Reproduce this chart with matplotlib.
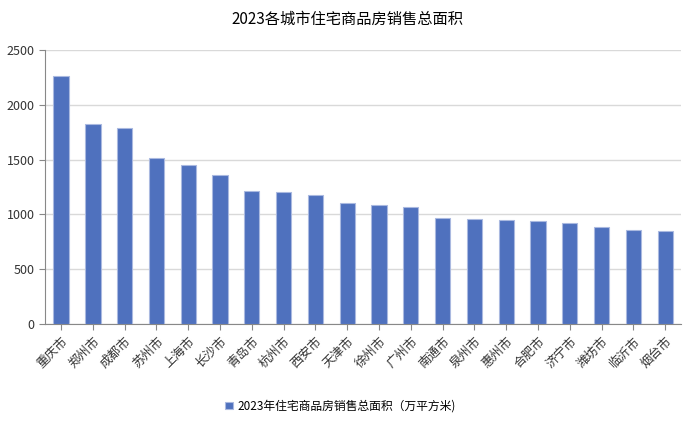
import matplotlib.pyplot as plt

plt.rcParams['font.family'] = ['Noto Sans CJK SC', 'DejaVu Sans']

# data
cities = ['重庆市', '郑州市', '成都市', '苏州市', '上海市', '长沙市', '青岛市', '杭州市',
          '西安市', '天津市', '徐州市', '广州市', '南通市', '泉州市', '惠州市', '合肥市',
          '济宁市', '潍坊市', '临沂市', '烟台市']
area = [2262, 1822, 1785, 1515, 1454, 1363, 1214, 1202,
        1174, 1107, 1089, 1066, 968, 958, 946, 937,
        919, 882, 856, 852]
series_name = '2023年住宅商品房销售总面积（万平方米)'

fig = plt.figure(figsize=(6.95, 4.21), dpi=100)
ax = fig.add_axes([0.065, 0.2304, 0.915, 0.651])

ax.bar(range(len(cities)), area, width=0.48, color='#4f71be',
       edgecolor='#aab9e0', linewidth=0.8, label=series_name, zorder=3)

ax.set_xlim(-0.5, len(cities) - 0.5)
ax.set_ylim(0, 2500)
ax.set_yticks(range(0, 2501, 500))
ax.yaxis.grid(True, color='#d9d9d9', linewidth=1, zorder=0)

ax.set_xticks(range(len(cities)))
ax.set_xticklabels(cities, rotation=45, ha='right', rotation_mode='anchor', fontsize=9)
ax.tick_params(axis='y', labelsize=9, length=4, color='#888888', colors='#333333')
ax.tick_params(axis='x', length=4, color='#888888', colors='#333333')
for lbl in ax.get_yticklabels():
    lbl.set_color('#333333')

for s in ['top', 'right']:
    ax.spines[s].set_visible(False)
ax.spines['left'].set_color('#888888')
ax.spines['bottom'].set_color('#888888')

fig.suptitle('2023各城市住宅商品房销售总面积', fontsize=11, y=0.975)

fig.legend(loc='center', bbox_to_anchor=(0.49, 0.035), frameon=False,
           fontsize=8.5, handlelength=0.6, handleheight=0.6, handletextpad=0.4)

fig.savefig('out.png', dpi=100)
